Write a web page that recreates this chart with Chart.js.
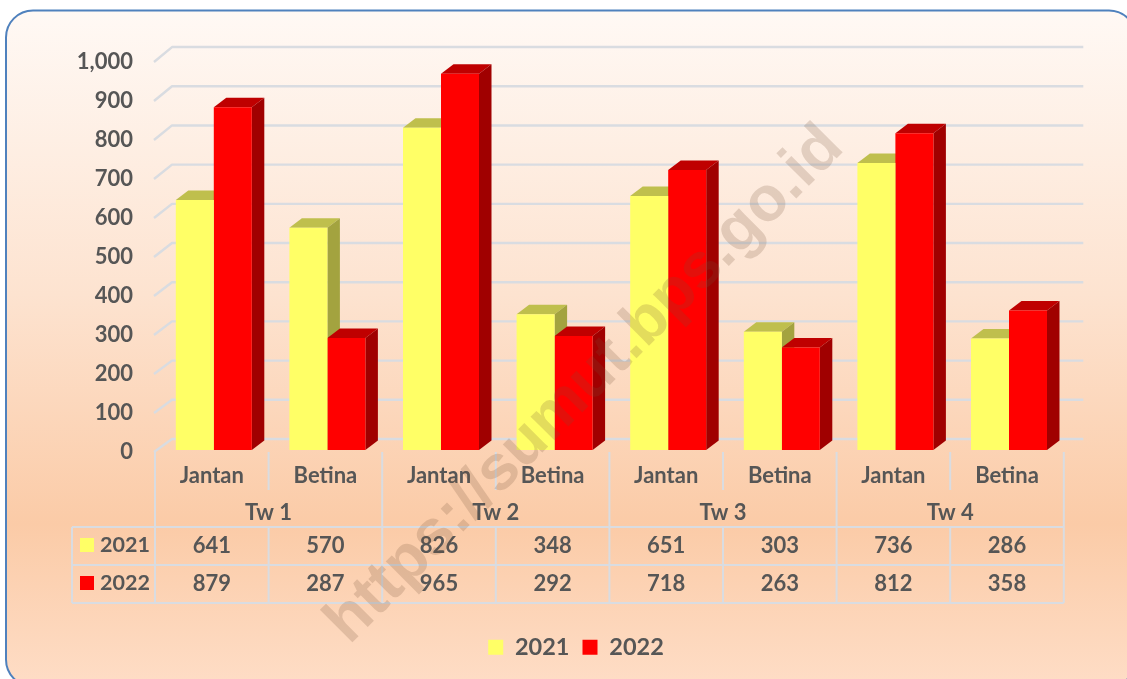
<!DOCTYPE html>
<html>
<head>
<meta charset="utf-8">
<style>
html,body{margin:0;padding:0;background:#fff;overflow:hidden}
canvas{display:block}
</style>
<script src="https://cdn.jsdelivr.net/npm/chart.js@4"></script>
</head>
<body>
<canvas id="c" width="1127" height="679"></canvas>
<script>
const categories = ['Jantan','Betina','Jantan','Betina','Jantan','Betina','Jantan','Betina'];
const quarters = ['Tw 1','Tw 2','Tw 3','Tw 4'];
const seriesNames = ['2021','2022'];
const values2021 = [641,570,826,348,651,303,736,286];
const values2022 = [879,287,965,292,718,263,812,358];

const TXT = '#565656', LINE = '#D9DCE1';
const FONT = 'Lato, "Open Sans", sans-serif';
const fmt = v => v.toLocaleString('en-US');

const scene = {
  id:'scene',
  beforeDraw(ch){
    const c = ch.ctx;
    const g = c.createLinearGradient(0,10,0,686);
    g.addColorStop(0,'#FFF9F5');
    g.addColorStop(0.42,'#FDE3D0');
    g.addColorStop(0.76,'#FBCBA7');
    g.addColorStop(1,'#FEDDC6');
    c.save();
    c.beginPath();
    c.roundRect(6,10.5,1130,676,27);
    c.fillStyle = g; c.fill();
    c.lineWidth = 2; c.strokeStyle = '#4F81BD'; c.stroke();
    c.restore();
  },
  beforeDatasetsDraw(ch){
    const c = ch.ctx, y = ch.scales.y, x = ch.scales.x, a = ch.chartArea;
    c.save();
    // walls grid
    c.strokeStyle = LINE; c.lineWidth = 2.4; c.lineJoin='round';
    y.ticks.forEach(t=>{
      const p = y.getPixelForValue(t.value);
      const back = y.bottom - 11 - (y.bottom-p)*1.005;
      c.beginPath();
      c.moveTo(a.left-1,p+2);
      c.lineTo(a.left+17,back);
      c.lineTo(a.right+19.5,back);
      c.stroke();
    });
    // table and category lines
    c.lineWidth = 2;
    const cw = x.getPixelForValue(1)-x.getPixelForValue(0);
    const rows = [527,565,603];
    const edge = i => a.left + i*cw;
    for(let i=0;i<=categories.length;i++){
      const major = i%2===0;
      c.beginPath(); c.moveTo(edge(i),452); c.lineTo(edge(i), major?527:490); c.stroke();
      c.beginPath(); c.moveTo(edge(i),527); c.lineTo(edge(i),603); c.stroke();
    }
    rows.forEach(r=>{c.beginPath();c.moveTo(72,r);c.lineTo(a.right,r);c.stroke();});
    c.beginPath();c.moveTo(72,527);c.lineTo(72,603);c.stroke();

    // table text
    c.fillStyle = TXT; c.textBaseline='middle'; c.textAlign='center';
    c.font = '700 22px '+FONT;
    quarters.forEach((q,i)=>c.fillText(q, edge(i*2+1), 513));
    categories.forEach((_,i)=>{
      const cx = x.getPixelForValue(i);
      c.fillText(fmt(values2021[i]),cx,545.5);
      c.fillText(fmt(values2022[i]),cx,583.5);
    });
    c.textAlign='left';
    c.font = '700 21.5px '+FONT;
    seriesNames.forEach((n,i)=>{
      c.fillStyle = ch.data.datasets[i].backgroundColor;
      c.fillRect(80,538+i*38,14,14);
      c.fillStyle = TXT;
      c.fillText(n,100,545+i*38);
    });
    c.restore();

    // 3D faces of the bars
    c.save();
    c.translate(2,0);
    const dx = 12.5, dy = 9.5;
    ch.data.datasets.forEach((ds,di)=>{
      ch.getDatasetMeta(di).data.forEach(b=>{
        const l = b.x-b.width/2, r = b.x+b.width/2, t = b.y, bt = b.base;
        c.fillStyle = ds.topColor;
        c.beginPath();c.moveTo(l,t);c.lineTo(l+dx,t-dy);c.lineTo(r+dx,t-dy);c.lineTo(r,t);c.closePath();c.fill();
        c.fillStyle = ds.sideColor;
        c.beginPath();c.moveTo(r,t);c.lineTo(r+dx,t-dy);c.lineTo(r+dx,bt-dy);c.lineTo(r,bt);c.closePath();c.fill();
      });
    });
    // the front faces follow, shifted the same way
  },
  afterDatasetsDraw(ch){
    ch.ctx.restore();
  },
  afterDraw(ch){
    const c = ch.ctx;
    c.save();
    c.translate(585,385);
    c.rotate(-Math.PI/4);
    c.font = '700 63.5px "Liberation Sans", Arial, sans-serif';
    c.textAlign='center'; c.textBaseline='middle';
    c.fillStyle='rgba(115,80,55,0.2)';
    c.fillText('https://sumut.bps.go.id',0,0);
    c.restore();
  }
};

new Chart(document.getElementById('c'),{
  type:'bar',
  data:{
    labels:categories,
    datasets:[
      {label:seriesNames[0],data:values2021,backgroundColor:'#FFFF66',topColor:'#BFBF4D',sideColor:'#A3A33F',categoryPercentage:0.669,barPercentage:1},
      {label:seriesNames[1],data:values2022,backgroundColor:'#FF0000',topColor:'#BF0000',sideColor:'#A00000',categoryPercentage:0.669,barPercentage:1}
    ]
  },
  options:{
    responsive:false,
    animation:false,
    layout:{padding:{left:88.2,right:63.2,top:60,bottom:10}},
    scales:{
      x:{
        grid:{display:false,drawTicks:false},border:{display:false},
        ticks:{color:TXT,font:{family:FONT,size:22,weight:'700'},padding:13,maxRotation:0,autoSkip:false},
        afterFit(s){s.height=172.5;}
      },
      y:{
        min:0,max:1000,
        grid:{display:false,drawTicks:false},border:{display:false},
        ticks:{stepSize:100,color:TXT,font:{family:FONT,size:22,weight:'700'},padding:22,callback:v=>fmt(v)},
        afterFit(s){
          s.width=66.8;
          // tick labels overhang the narrow axis box and sit a little below their gridline
          s._computeLabelArea = () => undefined;
          if(!s._nudged){
            s._nudged = true;
            const orig = s._computeLabelItems;
            s._computeLabelItems = function(area){
              const items = orig.call(this,area);
              items.forEach(it=>{it.options.translation[1]+=2;});
              return items;
            };
          }
        }
      }
    },
    plugins:{
      tooltip:{enabled:false},
      legend:{
        position:'bottom',
        labels:{color:TXT,font:{family:FONT,size:23.5,weight:'700'},boxWidth:15,boxHeight:15,padding:13}
      }
    }
  },
  plugins:[scene]
});
</script>
</body>
</html>
